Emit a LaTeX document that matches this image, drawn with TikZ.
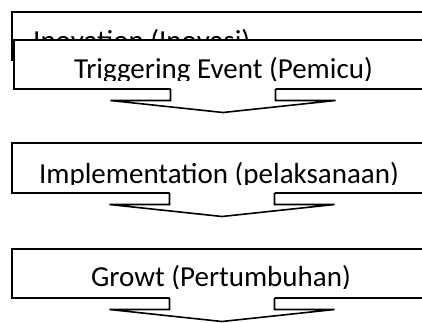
\documentclass[tikz,border=0pt]{standalone}
\usepackage{fontspec}
\setmainfont{Carlito}
\usetikzlibrary{calc}
\newcommand\boxarrow[1]{%
  \fill[white] ($(#1.south)+(-52.5,-1.2)$) -- ++(0,12.7) -- ++(-60,0) -- ++(112.5,12) -- ++(112.5,-12) -- ++(-60,0) -- ++(0,-12.7) -- cycle;
  \draw[frame] ($(#1.south)+(-52.5,0)$) -- ++(0,11.5) -- ++(-60,0) -- ++(112.5,12) -- ++(112.5,-12) -- ++(-60,0) -- ++(0,-11.5);}
\begin{document}
\begin{tikzpicture}[x=1pt,y=-1pt,
  frame/.style={line width=1.6pt},
  box/.style={frame, draw, fill=white, inner sep=0pt, outer sep=0pt, anchor=north west, minimum width=420pt},
  lbl/.style={font=\fontsize{29}{34}\selectfont, inner sep=0pt, anchor=base}]
\useasboundingbox (0,0) rectangle (422,323);
\begin{scope}
\clip (0,0) rectangle (422,323);
% box 1
\node (b1) [box, minimum height=48pt] at (12,12) {};
\node (t1) [lbl, anchor=base west] at (33,51) {Inovation (Inovasi)};
% box 2
\node (b2) [box, minimum width=418pt, minimum height=49pt] at (14,40) {};
\begin{scope}
\clip (14,40) rectangle (432,81);
\node (t2) [lbl] at (223.4,79) {Triggering Event (Pemicu)};
\end{scope}
\boxarrow{b2}
% box 3
\node (b3) [box, minimum height=50pt] at (12,143) {};
\begin{scope}
\clip (12,143) rectangle (432,184);
\node (t3) [lbl] at (219,183) {Implementation (pelaksanaan)};
\end{scope}
\boxarrow{b3}
% box 4
\node (b4) [box, minimum height=49pt] at (12,249) {};
\begin{scope}
\clip (12,249) rectangle (432,288);
\node (t4) [lbl] at (221,286) {Growt (Pertumbuhan)};
\end{scope}
\boxarrow{b4}
\end{scope}
\end{tikzpicture}
\end{document}
